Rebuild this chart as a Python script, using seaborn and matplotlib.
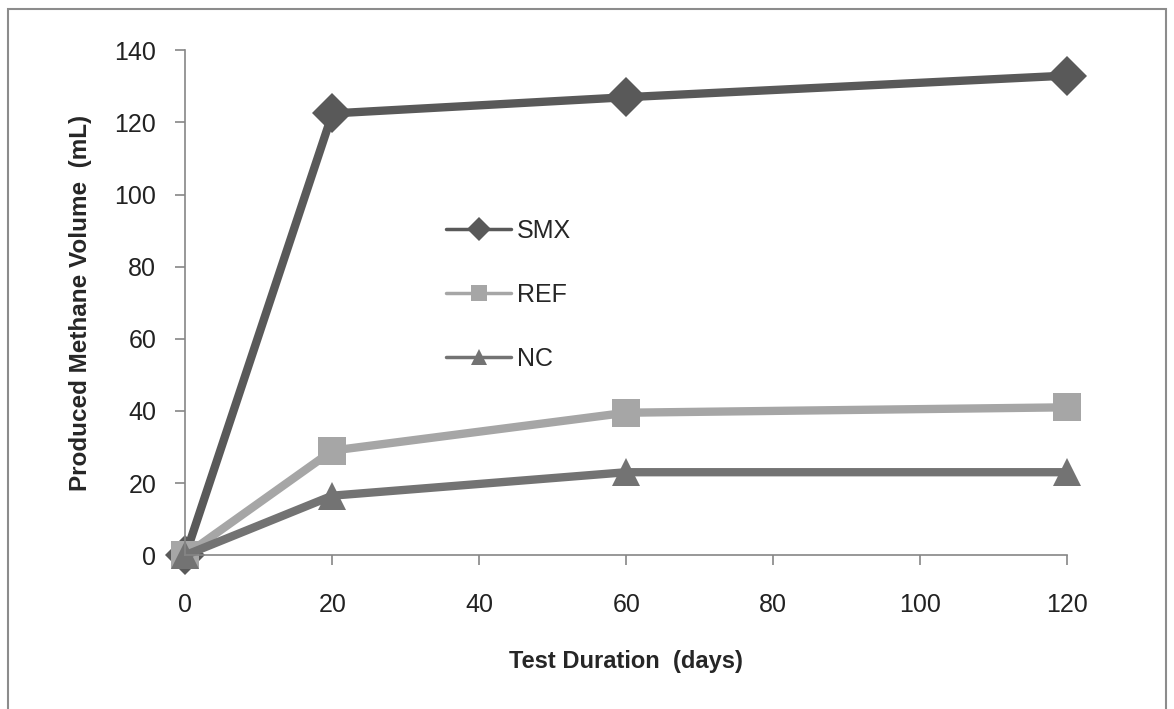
import pandas as pd
import matplotlib.pyplot as plt
import seaborn as sns
from matplotlib.patches import Rectangle

# data
days = [0, 20, 60, 120]
smx = [0, 122.5, 127, 133]
ref = [0, 29, 39.5, 41]
nc = [0, 16.5, 23, 23]
series = ['SMX', 'REF', 'NC']

df = pd.DataFrame({
    'days': days * 3,
    'volume': smx + ref + nc,
    'group': [s for s in series for _ in days],
})

sns.set_style('white')
plt.rcParams['font.family'] = ['Liberation Sans', 'DejaVu Sans']

fig = plt.figure(figsize=(11.74, 7.09), dpi=100)
ax = fig.add_axes([0.158, 0.217, 0.751, 0.712])

colors = {'SMX': '#595959', 'REF': '#a6a6a6', 'NC': '#737373'}
markers = {'SMX': 'D', 'REF': 's', 'NC': '^'}
sns.lineplot(data=df, x='days', y='volume', hue='group', style='group',
             palette=colors, markers=markers, dashes=False, linewidth=6,
             markersize=20, markeredgewidth=0, ax=ax)

ax.set_xlim(0, 120)
ax.set_ylim(0, 140)
ax.set_xticks([0, 20, 40, 60, 80, 100, 120])
ax.set_yticks(range(0, 141, 20))
ax.set_xlabel('Test Duration  (days)', fontsize=17, fontweight='bold', labelpad=24)
ax.set_ylabel('Produced Methane Volume  (mL)', fontsize=17.5, fontweight='bold', labelpad=16)
for s in ['top', 'right']:
    ax.spines[s].set_visible(False)
for s in ['left', 'bottom']:
    ax.spines[s].set_color('#868686')
    ax.spines[s].set_linewidth(1.2)
ax.tick_params(axis='both', direction='out', length=7, width=1.2, color='#868686',
               labelsize=18, labelcolor='#222222', bottom=True, left=True)
ax.tick_params(axis='x', pad=20)
ax.tick_params(axis='y', pad=14)
for line in ax.lines:
    line.set_clip_on(False)

leg = ax.legend(loc='upper left', bbox_to_anchor=(0.27, 0.71), frameon=False,
                fontsize=18, labelspacing=1.6, handlelength=2.6, handletextpad=0.25,
                markerscale=0.6)
for h in leg.get_lines():
    h.set_linewidth(2.5)

fig.patches.append(Rectangle((0.007, -0.02), 0.986, 1.007, transform=fig.transFigure,
                             fill=False, edgecolor='#8c8c8c', linewidth=1.5))

plt.savefig('out.png', dpi=100)
